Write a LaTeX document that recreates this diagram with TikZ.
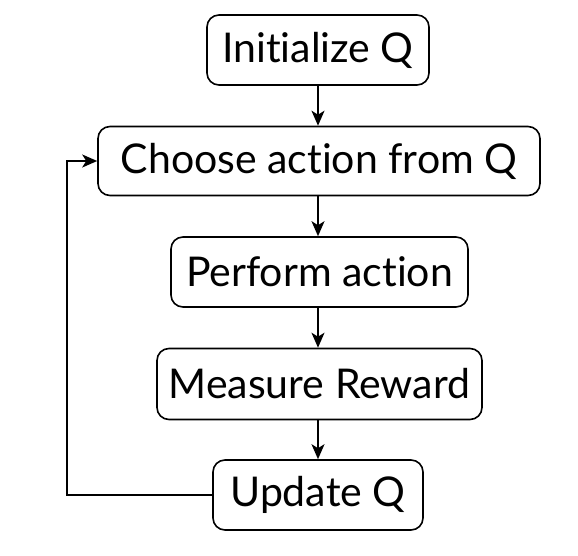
\documentclass[tikz,border=0pt]{standalone}
\usepackage{fontspec}
\setmainfont[RawFeature={-liga;-dlig}]{Lato}
\usetikzlibrary{arrows.meta}
\begin{document}
\begin{tikzpicture}[x=1pt,y=-1pt,
  stepbox/.style={draw=black, line width=1.6pt, rounded corners=12pt,
    inner sep=0pt, align=center, font=\fontsize{41}{45}\selectfont},
  flow/.style={line width=1.8pt, -{Stealth[length=15pt,width=13pt,inset=4pt]}}]
\useasboundingbox (0,0) rectangle (578,556);
\node[stepbox, minimum width=222pt, minimum height=70pt] (init) at (318,50) {Initialize Q};
\node[stepbox, minimum width=442pt, minimum height=69pt] (choose) at (319,161) {Choose action from Q};
\node[stepbox, minimum width=297pt, minimum height=70pt] (perform) at (319.5,272) {Perform action};
\node[stepbox, minimum width=325pt, minimum height=71pt] (measure) at (319.5,384) {Measure Reward};
\node[stepbox, minimum width=210pt, minimum height=70pt] (update) at (318,495) {Update Q};
\coordinate (back) at (67,0);
\draw[flow] (init.south -| 318,0) -- (choose.north -| 318,0);
\draw[flow] (choose.south -| 318,0) -- (perform.north -| 318,0);
\draw[flow] (perform.south -| 318,0) -- (measure.north -| 318,0);
\draw[flow] (measure.south -| 318,0) -- (update.north -| 318,0);
\draw[flow] (update.west) -- (update.west -| back) -- (choose.west -| back) -- (choose.west);
\end{tikzpicture}
\end{document}
